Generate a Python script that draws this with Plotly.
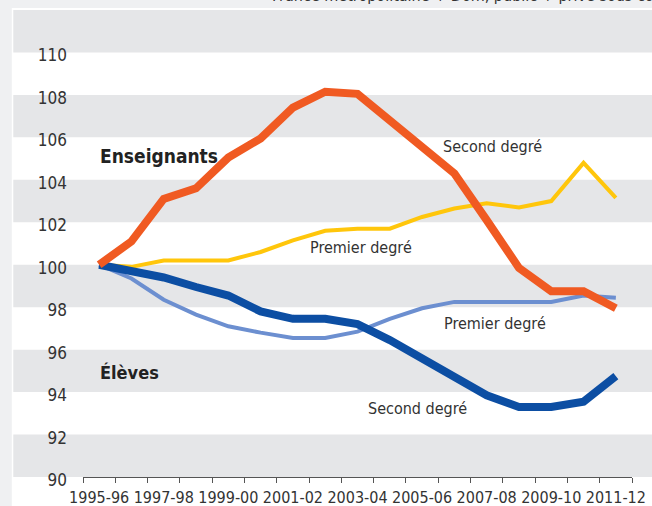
import plotly.graph_objects as go

years = ["1995-96", "1996-97", "1997-98", "1998-99", "1999-00", "2000-01", "2001-02",
         "2002-03", "2003-04", "2004-05", "2005-06", "2006-07", "2007-08", "2008-09",
         "2009-10", "2010-11", "2011-12"]
ens_second = [100, 101.1, 103.1, 103.6, 105.05, 105.95, 107.4, 108.15, 108.05, 106.8,
              105.6, 104.3, 102.1, 99.85, 98.75, 98.75, 97.95]
ens_premier = [100, 99.9, 100.2, 100.2, 100.2, 100.6, 101.15, 101.6, 101.7, 101.7,
               102.25, 102.65, 102.9, 102.7, 103.0, 104.8, 103.15]
elv_premier = [100, 99.35, 98.35, 97.65, 97.1, 96.8, 96.55, 96.55, 96.85, 97.45,
               97.95, 98.25, 98.25, 98.25, 98.25, 98.55, 98.45]
elv_second = [100, 99.7, 99.4, 98.95, 98.55, 97.8, 97.45, 97.45, 97.2, 96.45,
              95.6, 94.65, 93.85, 93.3, 93.3, 93.55, 94.75]
y_ticks = [90, 92, 94, 96, 98, 100, 102, 104, 106, 108, 110]
bands = [(90, 92), (94, 96), (98, 100), (102, 104), (106, 108), (110, 112)]

FONT = "Noto Sans Condensed, DejaVu Sans Condensed, sans-serif"
TXT = "#333333"
xs = list(range(len(years)))

fig = go.Figure()
fig.add_trace(go.Scatter(x=xs, y=elv_premier, mode="lines",
                         line=dict(color="#6c8fd0", width=4), hoverinfo="skip"))
fig.add_trace(go.Scatter(x=xs, y=ens_premier, mode="lines",
                         line=dict(color="#ffc60b", width=4), hoverinfo="skip"))
fig.add_trace(go.Scatter(x=xs, y=elv_second, mode="lines",
                         line=dict(color="#0c4ea3", width=8), hoverinfo="skip"))
fig.add_trace(go.Scatter(x=xs, y=ens_second, mode="lines",
                         line=dict(color="#f05a22", width=8), hoverinfo="skip"))

shapes = []
# outer light frame (left strip and top strip)
shapes.append(dict(type="rect", xref="paper", yref="paper", x0=-0.16, x1=-0.1297,
                   y0=-0.07, y1=1.03, fillcolor="#eff0f2", line_width=0, layer="below"))
shapes.append(dict(type="rect", xref="paper", yref="paper", x0=-0.16, x1=1.05,
                   y0=1.0043, y1=1.03, fillcolor="#eff0f2", line_width=0, layer="below"))
for lo, hi in bands:
    shapes.append(dict(type="rect", xref="paper", yref="y", x0=-0.127, x1=1.05,
                       y0=lo, y1=hi, fillcolor="#e5e6e8", line_width=0, layer="below"))

ann = []
def label(x, y, text, bold=False, anchor="center", size=16):
    ann.append(dict(x=x, y=y, xref="x", yref="y", text=("<b>%s</b>" % text) if bold else text,
                    showarrow=False, xanchor=anchor, yanchor="middle",
                    font=dict(family=FONT, size=size, color="#222222" if bold else TXT)))

label(-0.05, 105.1, "Enseignants", bold=True, anchor="left", size=19)
label(-0.05, 94.9, "Élèves", bold=True, anchor="left", size=18)
label(12.17, 105.55, "Second degré")
label(8.11, 100.83, "Premier degré")
label(12.25, 97.25, "Premier degré")
label(9.85, 93.24, "Second degré")
ann.append(dict(x=0.34, y=1.0065, xref="paper", yref="paper", xanchor="left", yanchor="bottom",
                text="France métropolitaine + Dom, public + privé sous contrat",
                showarrow=False, font=dict(family=FONT, size=16, color=TXT)))

fig.update_layout(
    width=652, height=506,
    margin=dict(l=83, r=20, t=10, b=29, pad=0, autoexpand=False),
    paper_bgcolor="white", plot_bgcolor="rgba(0,0,0,0)",
    showlegend=False,
    shapes=shapes, annotations=ann,
    font=dict(family=FONT, size=17, color=TXT),
    xaxis=dict(range=[-0.5, 16.5], tickmode="array", tickvals=xs[::2], ticktext=years[::2],
               tickangle=0, automargin=False, ticklabelstandoff=6,
               showgrid=False, zeroline=False, showline=True, linecolor="#555555", linewidth=1,
               ticks="", tickfont=dict(family=FONT, size=16, color=TXT),
               minor=dict(tickmode="array", tickvals=[i - 0.5 for i in range(len(years) + 1)],
                          ticks="outside", ticklen=5, tickcolor="#555555", tickwidth=1,
                          showgrid=False),
               fixedrange=True),
    yaxis=dict(range=[90, 112], tickmode="array", tickvals=y_ticks, automargin=False,
               showgrid=False, zeroline=False, showline=False, ticks="",
               ticklabelstandoff=15, ticklabelshift=3,
               tickfont=dict(family=FONT, size=17, color=TXT),
               fixedrange=True),
)

fig.write_html("out.html", config={"displayModeBar": False},
               post_script="document.body.style.margin='0';document.body.style.overflow='hidden';")
